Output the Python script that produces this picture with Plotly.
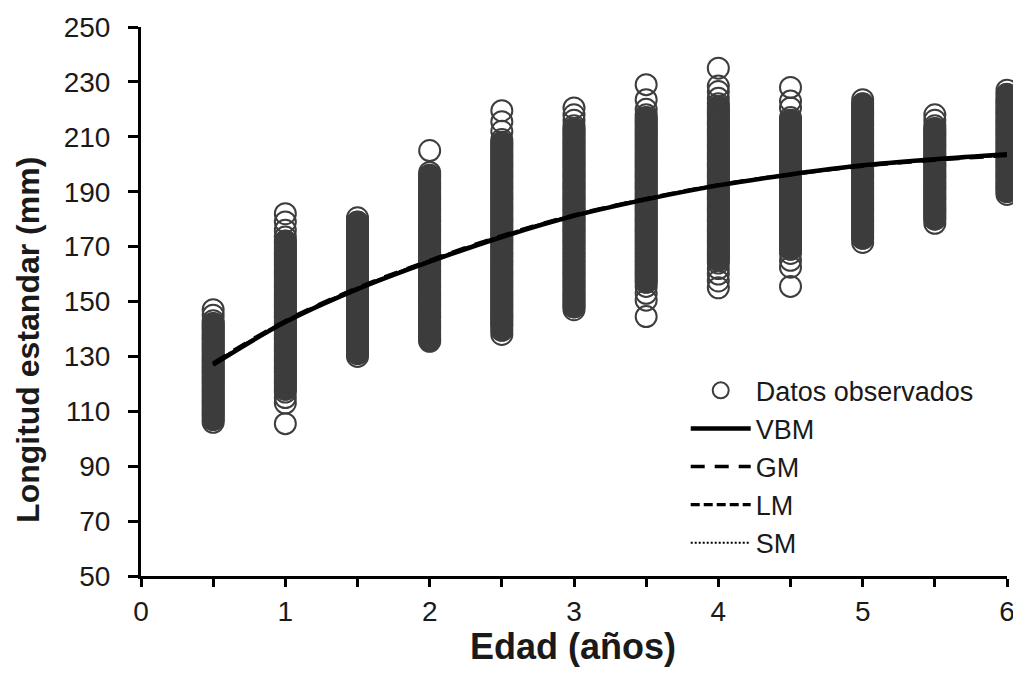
import plotly.graph_objects as go

# ---------------- data ----------------
ages = [0.5, 1.0, 1.5, 2.0, 2.5, 3.0, 3.5, 4.0, 4.5, 5.0, 5.5, 6.0]

obs_05 = [106, 107, 108, 109, 110, 111, 112, 113, 114, 115, 116, 117, 118, 119, 120, 121, 122, 123, 124, 125,
          126, 127, 128, 129, 130, 131, 132, 133, 134, 135, 136, 137, 138, 139, 140, 141, 142, 143, 145, 147]
obs_10 = [105.5, 113, 115, 117, 118, 119, 120, 121, 122, 123, 124, 125, 126, 127, 128, 129, 130, 131, 132, 133,
          134, 135, 136, 137, 138, 139, 140, 141, 142, 143, 144, 145, 146, 147, 148, 149, 150, 151, 152, 153,
          154, 155, 156, 157, 158, 159, 160, 161, 162, 163, 164, 165, 166, 167, 168, 169, 170, 171, 172, 173.5,
          176, 179, 182]
obs_15 = [130, 131, 132, 133, 134, 135, 136, 137, 138, 139, 140, 141, 142, 143, 144, 145, 146, 147, 148, 149,
          150, 151, 152, 153, 154, 155, 156, 157, 158, 159, 160, 161, 162, 163, 164, 165, 166, 167, 168, 169,
          170, 171, 172, 173, 174, 175, 176, 177, 178, 179, 180.5]
obs_20 = [135.5, 136, 137, 138, 139, 140, 141, 142, 143, 144, 145, 146, 147, 148, 149, 150, 151, 152, 153, 154,
          155, 156, 157, 158, 159, 160, 161, 162, 163, 164, 165, 166, 167, 168, 169, 170, 171, 172, 173, 174,
          175, 176, 177, 178, 179, 180, 181, 182, 183, 184, 185, 186, 187, 188, 189, 190, 191, 192, 193, 194,
          195, 196, 197, 205]
obs_25 = [138, 139.5, 141, 142, 143, 144, 145, 146, 147, 148, 149, 150, 151, 152, 153, 154, 155, 156, 157, 158,
          159, 160, 161, 162, 163, 164, 165, 166, 167, 168, 169, 170, 171, 172, 173, 174, 175, 176, 177, 178,
          179, 180, 181, 182, 183, 184, 185, 186, 187, 188, 189, 190, 191, 192, 193, 194, 195, 196, 197, 198,
          199, 200, 201, 202, 203, 204, 205, 206, 207, 208, 209, 212, 215.5, 219.5]
obs_30 = [147, 148, 149, 150, 151, 152, 153, 154, 155, 156, 157, 158, 159, 160, 161, 162, 163, 164, 165, 166,
          167, 168, 169, 170, 171, 172, 173, 174, 175, 176, 177, 178, 179, 180, 181, 182, 183, 184, 185, 186,
          187, 188, 189, 190, 191, 192, 193, 194, 195, 196, 197, 198, 199, 200, 201, 202, 203, 204, 205, 206,
          207, 208, 209, 210, 211, 212, 213, 214, 216, 218, 220.5]
obs_35 = [144.5, 150.5, 153, 155.5, 157, 158, 159, 160, 161, 162, 163, 164, 165, 166, 167, 168, 169, 170, 171, 172,
          173, 174, 175, 176, 177, 178, 179, 180, 181, 182, 183, 184, 185, 186, 187, 188, 189, 190, 191, 192,
          193, 194, 195, 196, 197, 198, 199, 200, 201, 202, 203, 204, 205, 206, 207, 208, 209, 210, 211, 212,
          213, 214, 215, 216, 217, 218, 220, 223.5, 229]
obs_40 = [155, 157.5, 160, 162, 164, 165, 166, 167, 168, 169, 170, 171, 172, 173, 174, 175, 176, 177, 178, 179,
          180, 181, 182, 183, 184, 185, 186, 187, 188, 189, 190, 191, 192, 193, 194, 195, 196, 197, 198, 199,
          200, 201, 202, 203, 204, 205, 206, 207, 208, 209, 210, 211, 212, 213, 214, 215, 216, 217, 218, 219,
          220, 221, 222, 224, 226.5, 228.5, 235]
obs_45 = [155.5, 162.5, 165, 167.5, 169, 170, 171, 172, 173, 174, 175, 176, 177, 178, 179, 180, 181, 182, 183, 184,
          185, 186, 187, 188, 189, 190, 191, 192, 193, 194, 195, 196, 197, 198, 199, 200, 201, 202, 203, 204,
          205, 206, 207, 208, 209, 210, 211, 212, 213, 214, 215, 216, 217, 220.5, 223, 228]
obs_50 = [171.5, 173, 174, 175, 176, 177, 178, 179, 180, 181, 182, 183, 184, 185, 186, 187, 188, 189, 190, 191,
          192, 193, 194, 195, 196, 197, 198, 199, 200, 201, 202, 203, 204, 205, 206, 207, 208, 209, 210, 211,
          212, 213, 214, 215, 216, 217, 218, 219, 220, 221, 222, 223.5]
obs_55 = [178.5, 180, 181, 182, 183, 184, 185, 186, 187, 188, 189, 190, 191, 192, 193, 194, 195, 196, 197, 198,
          199, 200, 201, 202, 203, 204, 205, 206, 207, 208, 209, 210, 211, 212, 213, 214, 216, 218]
obs_60 = [189, 190, 191, 192, 193, 194, 195, 196, 197, 198, 199, 200, 201, 202, 203, 204, 205, 206, 207, 208,
          209, 210, 211, 212, 213, 214, 215, 216, 217, 218, 219, 220, 221, 222, 223, 224, 225.5, 227]

observed = [obs_05, obs_10, obs_15, obs_20, obs_25, obs_30, obs_35, obs_40, obs_45, obs_50, obs_55, obs_60]

# model curves (standard length, mm) at each age
vbm = [127.0, 142.5, 154.5, 164.5, 173.5, 181.2, 187.2, 192.3, 196.3, 199.6, 201.8, 203.6]
gm = [127.6, 143.0, 155.0, 165.0, 174.0, 181.5, 187.5, 192.5, 196.3, 199.3, 201.5, 203.2]
lm = [127.3, 142.8, 154.8, 164.8, 173.8, 181.4, 187.4, 192.4, 196.3, 199.5, 201.7, 203.4]
sm = [126.8, 142.3, 154.4, 164.5, 173.6, 181.3, 187.3, 192.3, 196.4, 199.7, 201.9, 203.7]

x_ticks = [0, 0.5, 1, 1.5, 2, 2.5, 3, 3.5, 4, 4.5, 5, 5.5, 6]
x_ticktext = ["0", "", "1", "", "2", "", "3", "", "4", "", "5", "", "6"]
y_ticks = [50, 70, 90, 110, 130, 150, 170, 190, 210, 230, 250]

# ---------------- figure ----------------
obs_x, obs_y = [], []
dense_x, dense_y = [], []
for a, vals in zip(ages, observed):
    s = sorted(vals)
    obs_x += [a] * len(s)
    obs_y += s
    # points packed between close neighbours form the solid body of each column
    for i in range(1, len(s) - 1):
        if s[i] - s[i - 1] <= 1.6 and s[i + 1] - s[i] <= 1.6:
            dense_x.append(a)
            dense_y.append(s[i])

FONT = "Liberation Sans, Arial, sans-serif"
GREY = "#3d3d3d"
TXT = "#1a1a1a"
fig = go.Figure()

fig.add_trace(go.Scatter(
    x=dense_x, y=dense_y, mode="markers", showlegend=False, hoverinfo="skip",
    marker=dict(symbol="circle", size=21, color=GREY, line=dict(width=1.5, color=GREY)),
    cliponaxis=False,
))
fig.add_trace(go.Scatter(
    x=obs_x, y=obs_y, mode="markers", name="Datos observados",
    marker=dict(symbol="circle-open", size=21, color=GREY, line=dict(width=2, color=GREY)),
    cliponaxis=False, legendrank=1,
))

curves = [("SM", sm, dict(width=2.2, dash="2px,2px"), 5),
          ("LM", lm, dict(width=3.2, dash="9px,4px"), 4),
          ("GM", gm, dict(width=3.5, dash="14px,10px"), 3),
          ("VBM", vbm, dict(width=4.5), 2)]
for name, vals, ln, rank in curves:
    fig.add_trace(go.Scatter(
        x=ages, y=vals, mode="lines", name=name, line_shape="spline",
        line=dict(color="black", **ln), legendrank=rank, cliponaxis=False,
    ))

# the page body adds an 8 px offset, so the figure is sized to fit inside it
fig.update_layout(
    width=1013, height=665,
    margin=dict(l=133, r=14, t=19, b=97),
    paper_bgcolor="white", plot_bgcolor="white",
    font=dict(family=FONT, color=TXT),
    legend=dict(
        x=0.629, y=0.382, xanchor="left", yanchor="top",
        font=dict(size=27, family=FONT, color=TXT),
        bgcolor="rgba(0,0,0,0)", tracegroupgap=0, itemwidth=60,
    ),
    xaxis=dict(
        range=[0, 6], tickvals=x_ticks, ticktext=x_ticktext, automargin=False,
        showline=True, linecolor="black", linewidth=3,
        ticks="outside", ticklen=8, tickwidth=3, tickcolor="black",
        showgrid=False, zeroline=False,
        tickfont=dict(size=28, family=FONT, color=TXT),
    ),
    yaxis=dict(
        range=[50, 250], tickvals=y_ticks, automargin=False,
        showline=True, linecolor="black", linewidth=3,
        ticks="outside", ticklen=10, tickwidth=3, tickcolor="black",
        showgrid=False, zeroline=False, ticklabelstandoff=12,
        tickfont=dict(size=28, family=FONT, color=TXT),
    ),
    annotations=[
        dict(text="<b>Edad (años)</b>", xref="paper", yref="paper", x=0.499, y=-0.128,
             xanchor="center", yanchor="middle", showarrow=False,
             font=dict(size=36, family=FONT, color=TXT)),
        dict(text="<b>Longitud estandar (mm)</b>", xref="paper", yref="paper", x=-0.1305, y=0.43,
             xanchor="center", yanchor="middle", showarrow=False, textangle=-90,
             font=dict(size=32, family=FONT, color=TXT)),
    ],
)

fig.write_html("out.html")
